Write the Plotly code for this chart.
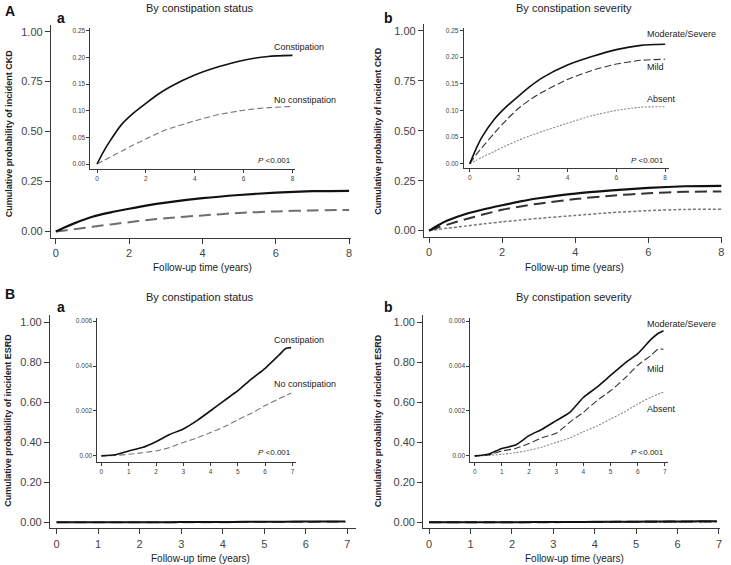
import plotly.graph_objects as go

W, H = 731, 565

# ---------------- data ----------------
ckd_t = [0, 0.25, 0.5, 1, 1.5, 2, 2.5, 3, 4, 5, 6, 7, 8]
ckd_constipation = [0, 0.022, 0.041, 0.074, 0.096, 0.114, 0.131, 0.145, 0.167, 0.183, 0.195, 0.202, 0.204]
ckd_no_constipation = [0, 0.006, 0.012, 0.024, 0.036, 0.047, 0.058, 0.067, 0.081, 0.093, 0.101, 0.106, 0.108]
ckd_modsev = [0, 0.027, 0.050, 0.083, 0.107, 0.127, 0.146, 0.162, 0.185, 0.201, 0.214, 0.222, 0.224]
ckd_mild = [0, 0.016, 0.030, 0.057, 0.082, 0.104, 0.121, 0.135, 0.158, 0.175, 0.187, 0.194, 0.196]
ckd_absent = [0, 0.006, 0.012, 0.023, 0.034, 0.044, 0.053, 0.061, 0.076, 0.090, 0.100, 0.106, 0.107]

esrd_t = [0, 0.5, 1, 1.5, 2, 2.5, 3, 3.5, 4, 4.5, 5, 5.5, 6, 6.5, 6.75, 6.95]
esrd_constipation = [0, 0.00005, 0.00022, 0.00037, 0.00063, 0.00095, 0.0012, 0.00157, 0.00201, 0.00246,
                     0.0029, 0.00343, 0.0039, 0.00448, 0.00478, 0.00482]
esrd_no_constipation = [0, 0.00002, 0.00007, 0.00014, 0.00022, 0.00037, 0.0006, 0.0008, 0.00104, 0.0013,
                        0.00161, 0.0019, 0.00224, 0.00254, 0.00268, 0.0028]
esrd_modsev = [0, 0.00007, 0.00033, 0.00048, 0.0009, 0.0012, 0.00157, 0.00194, 0.0026, 0.00306,
               0.00358, 0.0041, 0.00455, 0.0052, 0.00545, 0.00557]
esrd_mild = [0, 0.00004, 0.00022, 0.00033, 0.00055, 0.00082, 0.00101, 0.0015, 0.00194, 0.00246,
             0.0029, 0.00343, 0.00403, 0.00448, 0.00475, 0.00475]
esrd_absent = [0, 0.00002, 0.00007, 0.00014, 0.00025, 0.0004, 0.0006, 0.0008, 0.00107, 0.00133,
               0.00164, 0.00195, 0.00231, 0.00262, 0.00275, 0.00284]

ckd_main_ticks = [0, 0.25, 0.5, 0.75, 1.0]
ckd_main_ticktext = ["0.00", "0.25", "0.50", "0.75", "1.00"]
ckd_inset_ticks = [0, 0.05, 0.10, 0.15, 0.20, 0.25]
ckd_inset_ticktext = ["0.00", "0.05", "0.10", "0.15", "0.20", "0.25"]
esrd_main_ticks = [0, 0.2, 0.4, 0.6, 0.8, 1.0]
esrd_main_ticktext = ["0.00", "0.20", "0.40", "0.60", "0.80", "1.00"]
esrd_inset_ticks = [0, 0.002, 0.004, 0.006]
esrd_inset_ticktext = ["0.00", "0.002", "0.004", "0.006"]
ckd_x_ticks = [0, 2, 4, 6, 8]
esrd_x_ticks = [0, 1, 2, 3, 4, 5, 6, 7]

FONT = "Liberation Sans, Arial, sans-serif"
AX = "#3a3a3a"


def px(x):
    return x / W


def py(y):
    return 1 - y / H


fig = go.Figure()
layout = dict(width=W, height=H, margin=dict(l=0, r=0, t=0, b=0),
              paper_bgcolor="white", plot_bgcolor="rgba(0,0,0,0)",
              showlegend=False, font=dict(family=FONT, color="#222"))

# axis definitions: (index, xpix0, xpix1, xrange, ypix_top, ypix_bottom, yrange, yticks, yticktext, xticks, inset)
axes = [
    (1, 51, 352, [-0.136, 8.054], 24, 237, [-0.030, 1.0335], ckd_main_ticks, ckd_main_ticktext, ckd_x_ticks, False),
    (2, 90.7, 296, [-0.269, 8.11], 27, 168.3, [-0.0094, 0.2556], ckd_inset_ticks, ckd_inset_ticktext, ckd_x_ticks, True),
    (3, 425, 724, [-0.145, 8.019], 22.7, 236.7, [-0.0335, 1.0365], ckd_main_ticks, ckd_main_ticktext, ckd_x_ticks, False),
    (4, 465, 671, [-0.245, 8.163], 27, 167.7, [-0.0088, 0.2547], ckd_inset_ticks, ckd_inset_ticktext, ckd_x_ticks, True),
    (5, 50, 356.7, [-0.161, 7.201], 315, 528.3, [-0.030, 1.0334], esrd_main_ticks, esrd_main_ticktext, esrd_x_ticks, False),
    (6, 97.7, 296.7, [-0.146, 7.125], 317.3, 461.7, [-0.000267, 0.00615], esrd_inset_ticks, esrd_inset_ticktext, esrd_x_ticks, True),
    (7, 424.3, 722.3, [-0.1445, 7.032], 315, 528.3, [-0.030, 1.0334], esrd_main_ticks, esrd_main_ticktext, esrd_x_ticks, False),
    (8, 471.7, 670, [-0.158, 7.122], 317.3, 461.7, [-0.000267, 0.00615], esrd_inset_ticks, esrd_inset_ticktext, esrd_x_ticks, True),
]

for (i, x0, x1, xr, yt, yb, yr, ytv, ytt, xtv, inset) in axes:
    xs = "xaxis" if i == 1 else f"xaxis{i}"
    ys = "yaxis" if i == 1 else f"yaxis{i}"
    tf = dict(family=FONT, size=6.5 if inset else 11, color="#444")
    common = dict(showgrid=False, zeroline=False, showline=True, linecolor=AX, linewidth=1,
                  ticks="outside", ticklen=3 if inset else 5, tickcolor=AX, tickwidth=1,
                  tickfont=tf, fixedrange=True)
    layout[xs] = dict(domain=[px(x0), px(x1)], range=xr, anchor=f"y{i if i > 1 else ''}",
                      tickvals=xtv, ticktext=[str(v) for v in xtv], tickmode="array", **common)
    layout[ys] = dict(domain=[py(yb), py(yt)], range=yr, anchor=f"x{i if i > 1 else ''}",
                      tickvals=ytv, ticktext=ytt, tickmode="array", **common)


def add(i, x, y, color, width, dash):
    fig.add_trace(go.Scatter(x=x, y=y, mode="lines", line=dict(color=color, width=width, dash=dash, shape="spline", smoothing=0.6),
                             xaxis=f"x{i if i > 1 else ''}", yaxis=f"y{i if i > 1 else ''}", hoverinfo="skip"))


# A a
add(1, ckd_t, ckd_no_constipation, "#6e6e6e", 2, "12px,6px")
add(1, ckd_t, ckd_constipation, "#111", 2.2, "solid")
add(2, ckd_t, ckd_no_constipation, "#777", 1.1, "6px,3px")
add(2, ckd_t, ckd_constipation, "#111", 1.6, "solid")
# A b
add(3, ckd_t, ckd_absent, "#777", 1.5, "3px,2px")
add(3, ckd_t, ckd_mild, "#333", 2, "12px,6px")
add(3, ckd_t, ckd_modsev, "#111", 2.2, "solid")
add(4, ckd_t, ckd_absent, "#888", 1.1, "2px,1.5px")
add(4, ckd_t, ckd_mild, "#333", 1.1, "7px,3px")
add(4, ckd_t, ckd_modsev, "#111", 1.6, "solid")
# B a
add(5, esrd_t, esrd_no_constipation, "#6e6e6e", 2, "12px,6px")
add(5, esrd_t, esrd_constipation, "#111", 2, "solid")
add(6, esrd_t, esrd_no_constipation, "#777", 1.1, "6px,3px")
add(6, esrd_t, esrd_constipation, "#111", 1.6, "solid")
# B b
add(7, esrd_t, esrd_absent, "#777", 1.5, "3px,2px")
add(7, esrd_t, esrd_mild, "#333", 2, "12px,6px")
add(7, esrd_t, esrd_modsev, "#111", 2, "solid")
add(8, esrd_t, esrd_absent, "#888", 1.1, "2px,1.5px")
add(8, esrd_t, esrd_mild, "#333", 1.1, "7px,3px")
add(8, esrd_t, esrd_modsev, "#111", 1.6, "solid")

ann = []


def text(x, y, s, size=9, xanchor="left", bold=False, angle=0, color="#222"):
    if bold:
        s = f"<b>{s}</b>"
    ann.append(dict(x=px(x), y=py(y), xref="paper", yref="paper", text=s, showarrow=False,
                    xanchor=xanchor, yanchor="middle", textangle=angle,
                    font=dict(family=FONT, size=size, color=color)))


# panel letters and titles
text(3, 10, "A", 14, bold=True, color="#111")
text(3, 294, "B", 14, bold=True, color="#111")
text(55, 17, "a", 14, bold=True, color="#111")
text(383, 17, "b", 14, bold=True, color="#111")
text(55, 307, "a", 14, bold=True, color="#111")
text(383, 307, "b", 14, bold=True, color="#111")
text(201, 7, "By constipation status", 11, xanchor="center")
text(576, 7, "By constipation severity", 11, xanchor="center")
text(201, 297, "By constipation status", 11, xanchor="center")
text(576, 297, "By constipation severity", 11, xanchor="center")
# axis titles
text(203, 267, "Follow-up time (years)", 10, xanchor="center")
text(576, 267, "Follow-up time (years)", 10, xanchor="center")
text(201, 558, "Follow-up time (years)", 10, xanchor="center")
text(576, 558, "Follow-up time (years)", 10, xanchor="center")
for (xx, yy, s) in [(8.5, 132, "Cumulative probability of incident CKD"),
                    (379, 130, "Cumulative probability of incident CKD"),
                    (8.5, 420, "Cumulative probability of incident ESRD"),
                    (379, 420, "Cumulative probability of incident ESRD")]:
    ann.append(dict(x=px(xx), y=py(yy), xref="paper", yref="paper", text=f"<b>{s}</b>", showarrow=False,
                    xanchor="center", yanchor="middle", textangle=-90,
                    font=dict(family=FONT, size=9, color="#222")))
# inset labels
text(273, 46, "Constipation", 9)
text(273, 99, "No constipation", 9)
text(647, 33.5, "Moderate/Severe", 9)
text(647, 66, "Mild", 9)
text(647, 98, "Absent", 9)
text(272.5, 340, "Constipation", 9)
text(272.5, 384, "No constipation", 9)
text(647, 323.5, "Moderate/Severe", 9)
text(647, 368.5, "Mild", 9)
text(647, 408.5, "Absent", 9)
for (xx, yy) in [(294, 160), (668, 160), (294, 452), (667.5, 452)]:
    text(xx, yy, "<i>P</i> <0.001", 8, xanchor="right")

layout["annotations"] = ann
fig.update_layout(**layout)
fig.write_html("out.html", config={"displayModeBar": False, "staticPlot": True},
               post_script="document.body.style.margin='0';document.body.style.padding='0';document.body.style.overflow='hidden';")
